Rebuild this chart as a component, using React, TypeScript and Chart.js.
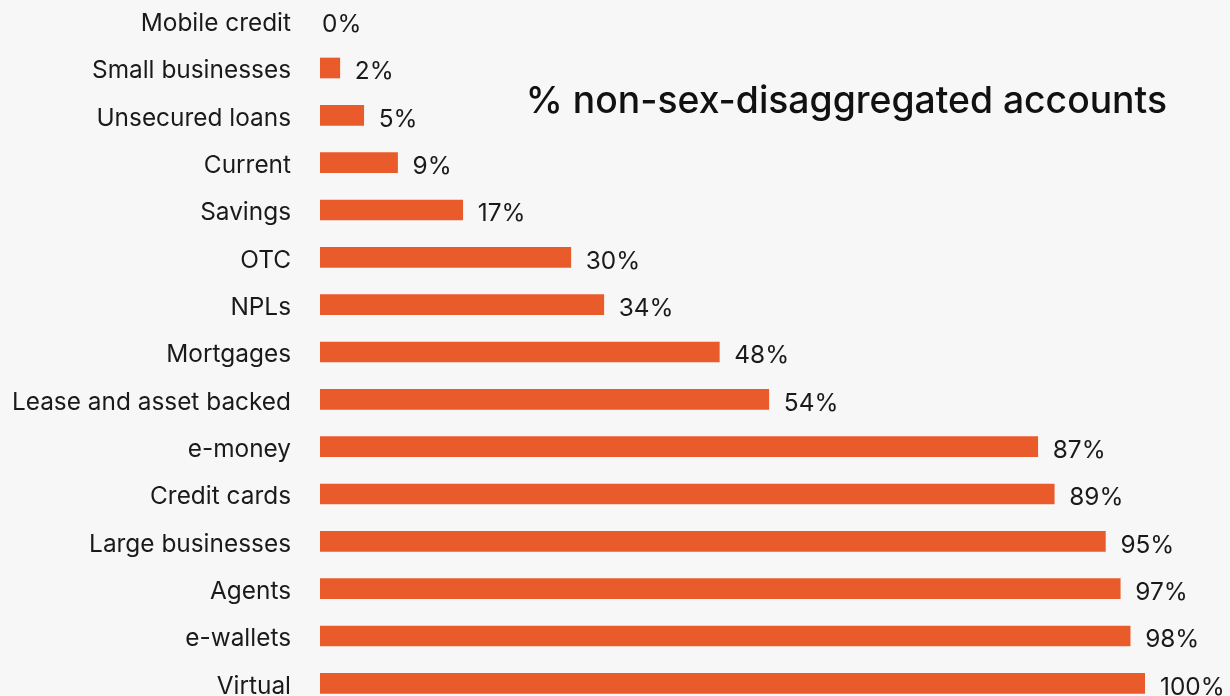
import React, { useEffect, useRef } from "react";
import { Chart, registerables } from "chart.js";

Chart.register(...registerables);

const categories = [
  "Mobile credit",
  "Small businesses",
  "Unsecured loans",
  "Current",
  "Savings",
  "OTC",
  "NPLs",
  "Mortgages",
  "Lease and asset backed",
  "e-money",
  "Credit cards",
  "Large businesses",
  "Agents",
  "e-wallets",
  "Virtual",
];

const values = [0, 2.4, 5.3, 9.4, 17.3, 30.4, 34.4, 48.4, 54.4, 87, 89, 95.2, 97, 98.2, 100];

const valueLabels = ["0%", "2%", "5%", "9%", "17%", "30%", "34%", "48%", "54%", "87%", "89%", "95%", "97%", "98%", "100%"];

const chartTitle = "% non-sex-disaggregated accounts";

const FONT = "Inter, 'Noto Sans', sans-serif";
const BAR_COLOR = "#ea5b2c";
const TEXT_COLOR = "#1a1a1a";
const BG = "#f7f7f7";

const valueLabelPlugin = {
  id: "valueLabels",
  afterDatasetsDraw(chart: any) {
    const ctx = chart.ctx;
    const meta = chart.getDatasetMeta(0);
    ctx.save();
    ctx.font = `24.4px ${FONT}`;
    ctx.fillStyle = TEXT_COLOR;
    ctx.textAlign = "left";
    ctx.textBaseline = "middle";
    meta.data.forEach((bar: any, i: number) => {
      const off = values[i] > 0 ? 15 : 2;
      ctx.fillText(valueLabels[i], bar.x + off, bar.y + 4);
    });
    ctx.restore();
  },
};

const titlePlugin = {
  id: "innerTitle",
  afterDraw(chart: any) {
    const ctx = chart.ctx;
    ctx.save();
    ctx.font = `500 37.3px ${FONT}`;
    ctx.fillStyle = "#111111";
    ctx.textAlign = "right";
    ctx.textBaseline = "alphabetic";
    ctx.fillText(chartTitle, 1167, 116);
    ctx.restore();
  },
};

export default function App() {
  const ref = useRef<HTMLCanvasElement | null>(null);

  useEffect(() => {
    document.body.style.margin = "0";
    document.body.style.background = BG;
    const chart = new Chart(ref.current as HTMLCanvasElement, {
      type: "bar",
      data: {
        labels: categories,
        datasets: [
          {
            data: values,
            backgroundColor: (c: any) => (c.raw > 0 ? BAR_COLOR : "rgba(0,0,0,0)"),
            borderWidth: 0,
            barThickness: 20,
          },
        ],
      },
      options: {
        indexAxis: "y",
        animation: false,
        responsive: true,
        maintainAspectRatio: false,
        layout: { padding: { left: 0, right: 85, top: 0, bottom: 0 } },
        plugins: {
          legend: { display: false },
          tooltip: { enabled: false },
          title: { display: false },
        },
        scales: {
          x: {
            display: false,
            min: 0,
            max: 100,
          },
          y: {
            grid: { display: false, drawTicks: false },
            border: { display: false },
            ticks: {
              padding: 29,
              labelOffset: 3,
              color: TEXT_COLOR,
              font: { family: FONT, size: 24.4 },
              autoSkip: false,
            },
            afterFit(scale: any) {
              scale.width = 320;
              scale.paddingTop = 0;
              scale.paddingBottom = 0;
            },
          },
        },
      },
      plugins: [valueLabelPlugin, titlePlugin],
    });
    return () => chart.destroy();
  }, []);

  return (
    <div
      style={{
        position: "absolute",
        left: 0,
        top: -3,
        width: 1230,
        height: 710,
        background: BG,
      }}
    >
      <canvas ref={ref} />
    </div>
  );
}
